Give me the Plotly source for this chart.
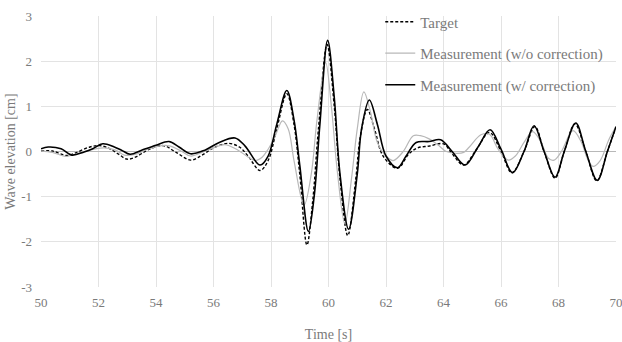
import plotly.graph_objects as go

# Target (dashed)
t_target = [50.0, 50.4, 50.9, 51.2, 51.7, 52.05, 52.4, 52.7, 53.0, 53.3, 53.7, 54.25, 54.7, 55.2, 55.6,
            56.0, 56.5, 56.9, 57.2, 57.62, 57.9, 58.2, 58.55, 58.8, 59.0, 59.25, 59.45, 59.65, 59.95,
            60.2, 60.4, 60.67, 60.95, 61.1, 61.35, 61.6, 61.9, 62.4, 62.8, 63.1, 63.5, 64.0, 64.3,
            64.7, 65.1, 65.6, 66.0, 66.38, 66.8, 67.18, 67.5, 67.88, 68.2, 68.57, 68.95, 69.33, 69.7, 70.0]
y_target = [0.01, 0.01, -0.09, -0.03, 0.10, 0.13, 0.06, -0.06, -0.17, -0.12, 0.03, 0.13, -0.02, -0.19, -0.08,
            0.08, 0.18, 0.10, -0.10, -0.42, -0.20, 0.50, 1.28, 0.60, -0.50, -2.07, -1.10, 0.50, 2.37,
            1.00, -0.60, -1.86, -0.60, 0.30, 0.93, 0.50, -0.10, -0.37, -0.05, 0.08, 0.12, 0.17, -0.05,
            -0.30, 0.00, 0.42, 0.00, -0.47, 0.00, 0.55, 0.00, -0.59, 0.00, 0.61, 0.00, -0.65, 0.00, 0.55]

# Measurement without correction (grey)
t_raw = [50.0, 50.4, 50.85, 51.2, 51.5, 51.9, 52.2, 52.6, 52.9, 53.3, 53.7, 54.2, 54.5, 54.9, 55.2,
         55.6, 56.0, 56.4, 56.8, 57.2, 57.45, 57.7, 57.9, 58.15, 58.4, 58.6, 58.8, 59.15, 59.4,
         59.6, 59.9, 60.1, 60.3, 60.57, 60.8, 61.0, 61.23, 61.45, 61.7, 62.0, 62.25, 62.6, 62.95,
         63.2, 63.5, 63.8, 64.1, 64.45, 64.7, 64.9, 65.3, 65.6, 65.9, 66.25, 66.5, 66.8, 67.1,
         67.4, 67.65, 67.85, 68.1, 68.5, 68.8, 69.0, 69.2, 69.45, 69.75, 70.0]
y_raw = [0.01, -0.02, -0.11, -0.06, 0.00, 0.06, 0.08, 0.03, -0.08, -0.06, 0.05, 0.13, 0.12, 0.00, -0.10,
         -0.02, 0.08, 0.15, 0.05, -0.12, -0.20, -0.12, 0.05, 0.35, 0.68, 0.50, -0.20, -1.19, -0.50,
         0.70, 1.97, 1.00, -0.40, -1.60, -0.60, 0.50, 1.32, 0.90, 0.20, -0.10, -0.20, 0.00, 0.35,
         0.35, 0.28, 0.15, 0.00, -0.04, -0.02, 0.10, 0.37, 0.38, 0.05, -0.19, -0.10, 0.20, 0.44,
         0.20, -0.15, -0.19, 0.00, 0.46, 0.20, -0.15, -0.33, -0.20, 0.26, 0.55]

# Measurement with correction (solid black)
t_corr = [50.0, 50.25, 50.7, 51.07, 51.5, 51.8, 52.15, 52.55, 52.8, 53.1, 53.5, 54.0, 54.45, 54.8, 55.2,
          55.7, 56.2, 56.75, 57.1, 57.62, 57.9, 58.2, 58.55, 58.8, 59.0, 59.3, 59.5, 59.7, 59.97,
          60.2, 60.4, 60.7, 61.0, 61.15, 61.42, 61.7, 62.0, 62.4, 62.7, 63.05, 63.5, 63.9, 64.3,
          64.75, 65.2, 65.62, 66.0, 66.4, 66.8, 67.15, 67.5, 67.88, 68.2, 68.6, 68.95, 69.35, 69.7, 70.0]
y_corr = [0.06, 0.10, 0.06, -0.08, -0.01, 0.06, 0.17, 0.10, 0.03, -0.06, 0.03, 0.14, 0.22, 0.10, -0.05,
          0.03, 0.20, 0.30, 0.12, -0.30, -0.10, 0.60, 1.35, 0.70, -0.30, -1.77, -1.00, 0.60, 2.46,
          1.20, -0.50, -1.72, -0.50, 0.50, 1.14, 0.60, -0.10, -0.36, -0.10, 0.20, 0.22, 0.26, 0.00,
          -0.30, 0.10, 0.48, 0.05, -0.47, 0.00, 0.57, 0.00, -0.57, 0.00, 0.63, 0.00, -0.64, 0.00, 0.55]

x_ticks = [50, 52, 54, 56, 58, 60, 62, 64, 66, 68, 70]
y_ticks = [-3, -2, -1, 0, 1, 2, 3]

FONT = "Liberation Serif"
TXT = "#7a7a7a"

fig = go.Figure()
fig.add_trace(go.Scatter(x=t_target, y=y_target, mode="lines", name="Target",
                         line=dict(color="black", width=1.4, dash="3px,2px", shape="spline", smoothing=1.0),
                         legendgroup="a"))
fig.add_trace(go.Scatter(x=t_raw, y=y_raw, mode="lines", name="Measurement (w/o correction)",
                         line=dict(color="#b8b8b8", width=1.2, shape="spline", smoothing=1.0),
                         legendgroup="b"))
fig.add_trace(go.Scatter(x=t_corr, y=y_corr, mode="lines", name="Measurement (w/ correction)",
                         line=dict(color="black", width=1.6, shape="spline", smoothing=1.0),
                         legendgroup="c"))

fig.update_layout(
    width=622, height=342,
    margin=dict(l=41, r=6, t=16, b=55, autoexpand=False),
    paper_bgcolor="white", plot_bgcolor="white",
    font=dict(family=FONT, color=TXT, size=13),
    showlegend=True,
    legend=dict(x=0.59, y=1.039, xanchor="left", yanchor="top", bgcolor="rgba(0,0,0,0)",
                font=dict(family=FONT, size=15, color=TXT), tracegroupgap=9,
                itemwidth=30),
    xaxis=dict(range=[50, 70], tickvals=x_ticks, ticktext=[str(v) for v in x_ticks],
               showgrid=True, gridcolor="#e3e3e3", gridwidth=1, zeroline=False, showline=False,
               ticks="", ticklabelstandoff=6, automargin=False, ticklabeloverflow="allow",
               title=dict(text="Time [s]", font=dict(family=FONT, size=14, color=TXT), standoff=21),
               tickfont=dict(family=FONT, size=13, color=TXT)),
    yaxis=dict(range=[-3, 3], tickvals=y_ticks, ticktext=[str(v) for v in y_ticks],
               showgrid=True, gridcolor="#e3e3e3", gridwidth=1, zeroline=True, zerolinecolor="#b8b8b8",
               zerolinewidth=1, showline=False, ticks="", ticklabelstandoff=8, automargin=False,
               title=dict(text="Wave elevation [cm]", font=dict(family=FONT, size=14, color=TXT), standoff=2),
               tickfont=dict(family=FONT, size=13, color=TXT)),
)

fig.write_html("out.html", config={"displayModeBar": False},
               post_script="document.body.style.margin='0';document.body.style.overflow='hidden';")
